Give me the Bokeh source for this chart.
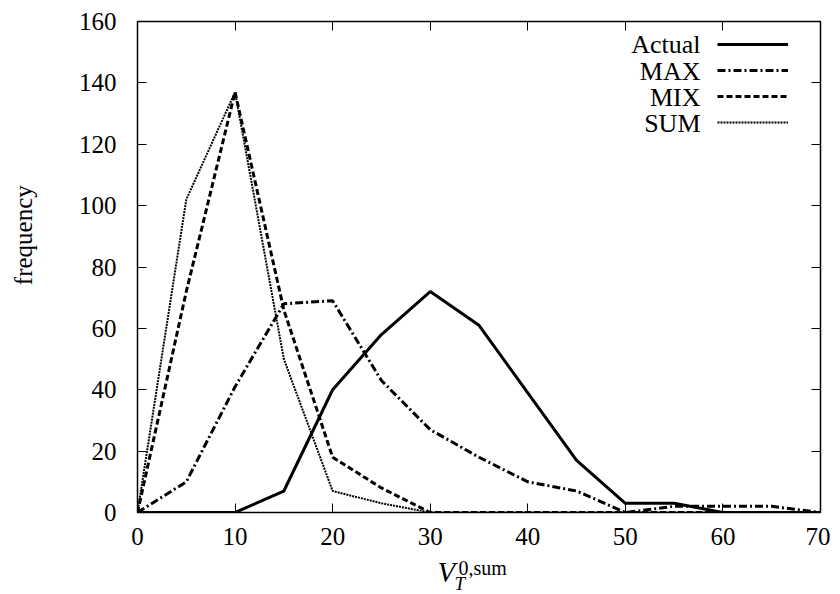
import math
from bokeh.plotting import figure
from bokeh.layouts import column, row
from bokeh.models import (Label, Legend, LegendItem, LinearAxis, FixedTicker,
                          CustomJSTickFormatter, Range1d)
from bokeh.embed import file_html
from bokeh.resources import INLINE

# ---- data ----
x_vals = [0, 5, 10, 15, 20, 25, 30, 35, 40, 45, 50, 55, 60, 65, 70]
actual = [0, 0, 0, 7, 40, 58, 72, 61, 39, 17, 3, 3, 0, 0, 0]
max_vals = [0, 10, 41, 68, 69, 43, 27, 18, 10, 7, 0, 2, 2, 2, 0]
mix_vals = [0, 72, 137, 66, 18, 8, 0, 0, 0, 0, 0, 0, 0, 0, 0]
sum_vals = [0, 102, 137, 50, 7, 3, 0, 0, 0, 0, 0, 0, 0, 0, 0]
series_names = ["Actual", "MAX", "MIX", "SUM"]
x_ticks = [0, 10, 20, 30, 40, 50, 60, 70]
y_ticks = [0, 20, 40, 60, 80, 100, 120, 140, 160]

FONT = "Liberation Serif"


def blank_fig(w, h):
    f = figure(width=w, height=h, output_backend="svg", toolbar_location=None,
               title=None,
               x_range=Range1d(0, w), y_range=Range1d(0, h), min_border=0,
               x_axis_location=None, y_axis_location=None)
    f.xgrid.visible = False
    f.ygrid.visible = False
    f.outline_line_color = None
    f.background_fill_color = "white"
    f.border_fill_color = "white"
    return f


p = figure(width=770, height=556, output_backend="svg", toolbar_location=None,
           x_range=Range1d(0, 70), y_range=Range1d(0, 160),
           min_border_left=77, min_border_right=10, min_border_top=21,
           min_border_bottom=44, x_axis_location=None, y_axis_location=None)
p.xgrid.visible = False
p.ygrid.visible = False
p.outline_line_color = "black"
p.outline_line_width = 1.5
p.background_fill_color = "white"
p.border_fill_color = "white"


def style_axis(ax, ticks, show_labels):
    ax.ticker = FixedTicker(ticks=ticks)
    ax.axis_line_color = None
    ax.major_tick_in = 9
    ax.major_tick_out = 0
    ax.major_tick_line_color = "black"
    ax.major_tick_line_width = 1
    ax.minor_tick_line_color = None
    if show_labels:
        ax.major_label_text_font = FONT
        ax.major_label_text_font_style = "normal"
        ax.major_label_text_font_size = "25px"
        ax.major_label_text_color = "black"
    else:
        ax.formatter = CustomJSTickFormatter(code="return ''")
        ax.major_label_standoff = 0


xb = LinearAxis(); style_axis(xb, x_ticks, True); xb.major_label_standoff = 15
yl = LinearAxis(); style_axis(yl, y_ticks, True); yl.major_label_standoff = 21
xt = LinearAxis(); style_axis(xt, x_ticks, False)
yr = LinearAxis(); style_axis(yr, y_ticks, False)
p.add_layout(xb, "below")
p.add_layout(yl, "left")
p.add_layout(xt, "above")
p.add_layout(yr, "right")

r_act = p.line(x_vals, actual, line_color="black", line_width=3)
r_max = p.line(x_vals, max_vals, line_color="black", line_width=3, line_dash="8 3 2 3")
r_mix = p.line(x_vals, mix_vals, line_color="black", line_width=3, line_dash="6 3")
r_sum = p.line(x_vals, sum_vals, line_color="black", line_width=2, line_dash="2 1")

renderers = [r_act, r_max, r_mix, r_sum]
legend = Legend(items=[LegendItem(label=" ", renderers=[r]) for r in renderers],
                location=(580, 377), glyph_width=71, glyph_height=26,
                label_height=26, label_width=0, label_standoff=0, spacing=0,
                padding=0, margin=0, border_line_color=None,
                background_fill_alpha=0, label_text_font_size="10px")
p.add_layout(legend, "center")

row_y = [468, 441, 415, 389]
for name, yy in zip(series_names, row_y):
    p.add_layout(Label(x=563, y=yy, x_units="screen", y_units="screen", text=name,
                       text_align="right", text_baseline="middle",
                       text_font=FONT, text_font_size="26px", text_color="black"))

# y axis label panel
pl = blank_fig(60, 556)
pl.add_layout(Label(x=23, y=314, text="frequency", angle=math.pi / 2,
                    text_align="center", text_baseline="middle",
                    text_font=FONT, text_font_size="25px", text_color="black"))

# x axis label panel: V_T^{0,sum}
pb = blank_fig(830, 38)
pb.add_layout(Label(x=437, y=23, text="V", text_align="left",
                    text_baseline="alphabetic", text_font_style="italic",
                    text_font=FONT, text_font_size="29px", text_color="black"))
pb.add_layout(Label(x=454, y=11, text="T", text_align="left",
                    text_baseline="alphabetic", text_font_style="italic",
                    text_font=FONT, text_font_size="19px", text_color="black"))
pb.add_layout(Label(x=458, y=27, text="0,sum", text_align="left",
                    text_baseline="alphabetic",
                    text_font=FONT, text_font_size="20px", text_color="black"))

layout = column(row(pl, p, spacing=0), pb, spacing=0)
open("out.html", "w").write(file_html(layout, INLINE))
